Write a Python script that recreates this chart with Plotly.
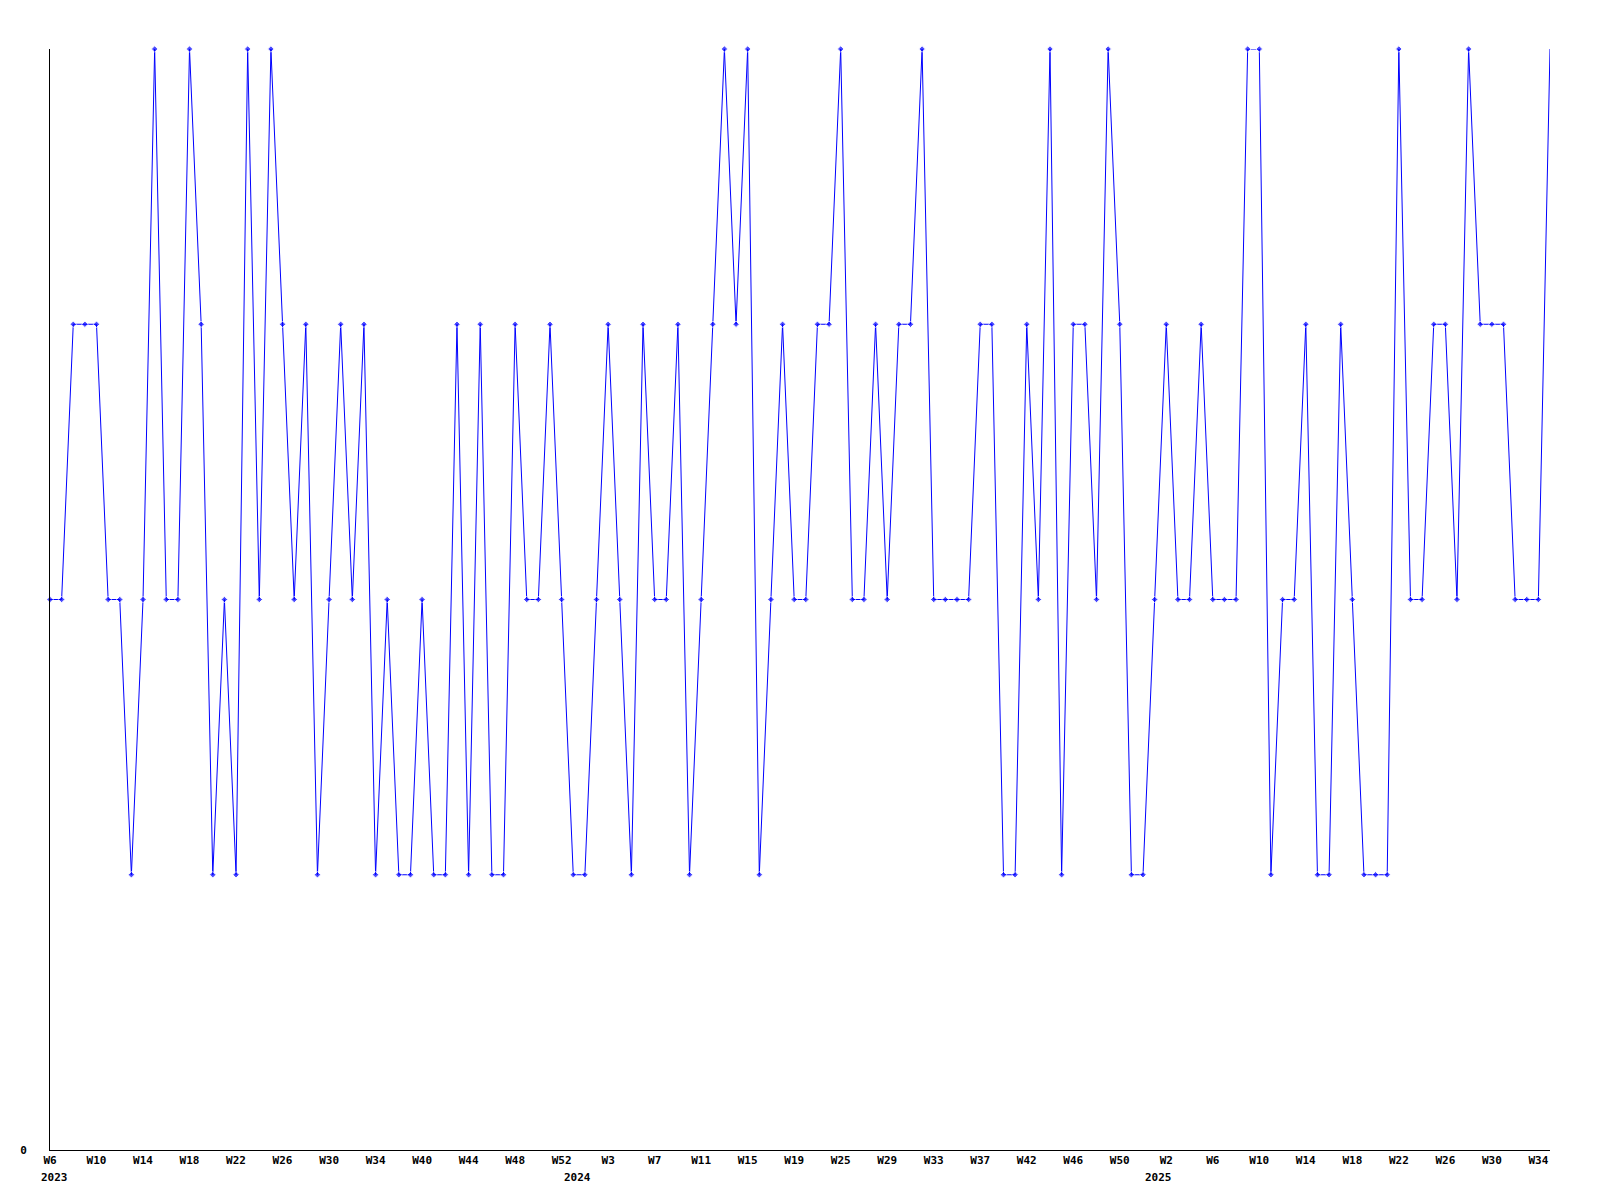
import plotly.graph_objects as go

# Series values, one per weekly point (130 points)
values = [
    2, 2, 3, 3, 3, 2, 2, 1, 2, 4,
    2, 2, 4, 3, 1, 2, 1, 4, 2, 4,
    3, 2, 3, 1, 2, 3, 2, 3, 1, 2,
    1, 1, 2, 1, 1, 3, 1, 3, 1, 1,
    3, 2, 2, 3, 2, 1, 1, 2, 3, 2,
    1, 3, 2, 2, 3, 1, 2, 3, 4, 3,
    4, 1, 2, 3, 2, 2, 3, 3, 4, 2,
    2, 3, 2, 3, 3, 4, 2, 2, 2, 2,
    3, 3, 1, 1, 3, 2, 4, 1, 3, 3,
    2, 4, 3, 1, 1, 2, 3, 2, 2, 3,
    2, 2, 2, 4, 4, 1, 2, 2, 3, 1,
    1, 3, 2, 1, 1, 1, 4, 2, 2, 3,
    3, 2, 4, 3, 3, 3, 2, 2, 2, 4,
]

# Week tick labels (every 4th point)
tick_labels = [
    "W6", "W10", "W14", "W18", "W22", "W26", "W30", "W34", "W40", "W44",
    "W48", "W52", "W3", "W7", "W11", "W15", "W19", "W25", "W29", "W33",
    "W37", "W42", "W46", "W50", "W2", "W6", "W10", "W14", "W18", "W22",
    "W26", "W30", "W34",
]
tick_step = 4

# Year labels and the point index where each year starts
year_labels = ["2023", "2024", "2025"]
year_starts = [0, 45, 95]

x_idx = list(range(len(values)))
tick_vals = [i * tick_step for i in range(len(tick_labels))]

marker_sizes = [5] * len(values)
marker_sizes[-1] = 0

font_family = "DejaVu Sans Mono"

fig = go.Figure()
fig.add_trace(go.Scatter(
    x=x_idx, y=values,
    mode="lines+markers",
    line=dict(color="#0000FF", width=1),
    marker=dict(color="#0000FF", size=marker_sizes, symbol="diamond"),
    cliponaxis=False,
    showlegend=False,
    hoverinfo="skip",
))

for lab, pos in zip(year_labels, year_starts):
    fig.add_annotation(
        x=pos, y=0, xref="x", yref="paper",
        text="<b>" + lab + "</b>", showarrow=False,
        xanchor="center", yanchor="middle", yshift=-27, xshift=4,
        font=dict(family=font_family, size=11, color="black"),
    )

fig.update_layout(
    width=1584, height=1184,
    margin=dict(l=42, r=42, t=41, b=42, autoexpand=False),
    paper_bgcolor="white", plot_bgcolor="white",
    font=dict(family=font_family, size=11, color="black"),
)
fig.update_xaxes(
    range=[0, len(values) - 1],
    tickmode="array", tickvals=tick_vals,
    ticktext=["<b>" + t + "</b>" for t in tick_labels],
    tickangle=0, showgrid=False, zeroline=False,
    showline=True, linecolor="black", linewidth=1,
    ticks="", tickfont=dict(family=font_family, size=11, color="black"),
)
fig.update_yaxes(
    range=[0, 4],
    tickmode="array", tickvals=[0], ticktext=["<b>0</b>"],
    showgrid=False, zeroline=False,
    showline=True, linecolor="black", linewidth=1,
    ticks="", ticklabelstandoff=20,
    tickfont=dict(family=font_family, size=11, color="black"),
)

fig.write_html("out.html")
